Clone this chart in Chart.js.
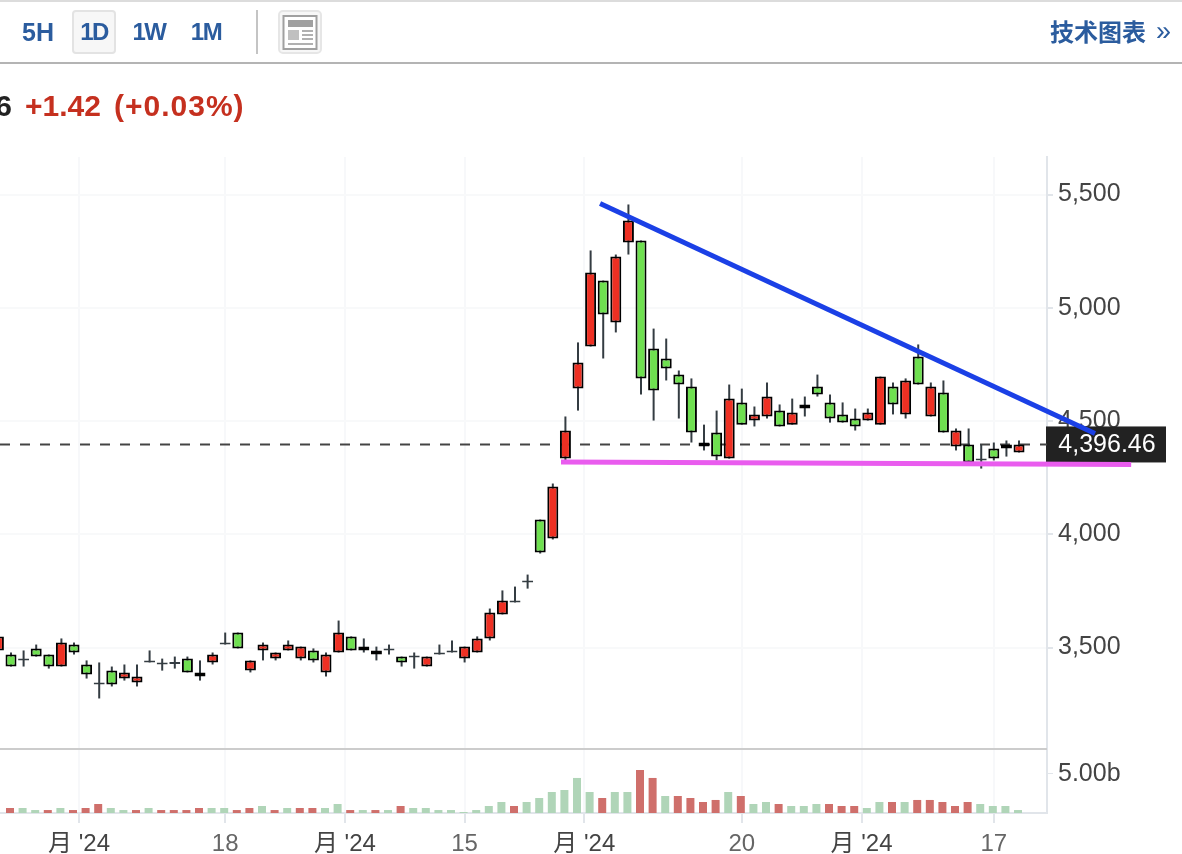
<!DOCTYPE html>
<html lang="zh">
<head>
<meta charset="utf-8">
<style>
html,body{margin:0;padding:0;background:#fff;width:1182px;height:854px;overflow:hidden;font-family:"Liberation Sans","Noto Sans CJK SC",sans-serif}
#c{position:absolute;left:0;top:0}
.abs{position:absolute;white-space:nowrap}
.tf{top:14px;height:36px;line-height:36px;font-size:25px;font-weight:700;color:#2b5c9e;text-align:center;width:44px}
.tn{font-size:24px;letter-spacing:-1.5px}
</style>
</head>
<body>
<canvas id="c" width="1182" height="854"></canvas>
<div class="abs" style="left:0;top:0;width:1182px;height:2px;background:#dcdcdc"></div>
<div class="abs" style="left:0;top:62px;width:1182px;height:2px;background:#b4b4b4"></div>
<div class="abs" style="left:72px;top:10px;width:40px;height:40px;background:#f7f7f7;border:2px solid #e3e3e3;border-radius:4px"></div>
<div class="abs tf" style="left:16px">5H</div>
<div class="abs tf tn" style="left:72px">1D</div>
<div class="abs tf tn" style="left:127px">1W</div>
<div class="abs tf tn" style="left:184px">1M</div>
<div class="abs" style="left:256px;top:10px;width:2px;height:44px;background:#c4c4c4"></div>
<svg class="abs" style="left:278px;top:10px" width="44" height="44" viewBox="0 0 44 44">
  <rect x="1" y="1" width="42" height="42" rx="4" fill="#f7f7f7" stroke="#e6e6e6" stroke-width="2"/>
  <rect x="7" y="6.5" width="33" height="33" fill="#fff" stroke="#a0a0a0" stroke-width="2" transform="translate(-1.5,-0.5)"/>
  <rect x="10" y="10" width="25" height="7" fill="#a0a0a0"/>
  <rect x="10" y="20" width="11" height="10" fill="#c0c0c0"/>
  <rect x="24" y="20" width="11" height="2" fill="#b0b0b0"/>
  <rect x="24" y="24" width="11" height="2" fill="#b0b0b0"/>
  <rect x="24" y="28" width="11" height="2" fill="#b0b0b0"/>
  <rect x="10" y="33" width="25" height="2" fill="#b0b0b0"/>
</svg>
<div class="abs" style="left:1050px;top:13px;height:36px;line-height:36px;font-size:24px;font-weight:700;color:#2b5c9e;font-family:'Noto Sans CJK SC',sans-serif">技术图表</div>
<div class="abs" style="left:1156px;top:13px;height:36px;line-height:36px;font-size:27px;color:#2b5c9e">»</div>
<div class="abs" style="right:1170px;top:88px;height:36px;line-height:36px;font-size:30px;font-weight:700;color:#222">6</div>
<div class="abs" style="left:25px;top:88px;height:36px;line-height:36px;font-size:30px;font-weight:700;color:#c5301f">+1.42</div>
<div class="abs" style="left:114px;top:88px;height:36px;line-height:36px;font-size:30px;font-weight:700;color:#c5301f;letter-spacing:1px">(+0.03%)</div>
<script src="https://cdn.jsdelivr.net/npm/chart.js@4/dist/chart.umd.min.js"></script>
<script>
const opens  = [3487,3469,3451,3496,3469,3416,3513,3425,3345,3398,3363,3345,3443,3434,3436,3451,3390,3434,3522,3566,3398,3487,3451,3487,3451,3487,3390,3478,3549,3504,3487,3496,3460,3465,3416,3478,3487,3451,3478,3540,3646,3708,3796,4065,3981,4334,4643,4829,5120,4935,5288,5297,4820,4776,4705,4652,4405,4449,4334,4582,4502,4520,4546,4484,4573,4652,4582,4529,4511,4502,4484,4652,4529,4785,4520,4626,4387,4396,4334,4379,4396,4361];
const highs  = [3549,3478,3487,3513,3469,3540,3522,3443,3434,3416,3425,3425,3487,3451,3460,3460,3443,3478,3566,3566,3443,3522,3478,3531,3504,3496,3478,3619,3549,3540,3504,3513,3460,3478,3460,3513,3531,3504,3549,3672,3752,3769,3822,4065,4224,4520,4847,5253,5120,5235,5456,5297,4908,4864,4723,4688,4484,4546,4661,4643,4564,4670,4573,4599,4608,4705,4617,4582,4555,4555,4696,4670,4688,4838,4670,4679,4467,4467,4396,4405,4414,4414];
const lows   = [3487,3416,3416,3460,3407,3416,3469,3363,3275,3328,3354,3328,3434,3398,3407,3390,3354,3425,3513,3496,3390,3443,3443,3487,3443,3434,3372,3478,3487,3478,3443,3469,3416,3407,3416,3469,3478,3434,3478,3531,3646,3699,3760,3915,3977,4326,4546,4829,4776,4891,5235,4617,4502,4679,4511,4405,4370,4326,4334,4484,4476,4511,4476,4484,4520,4608,4493,4493,4458,4502,4484,4529,4511,4661,4520,4449,4370,4317,4290,4326,4343,4361];
const closes = [3549,3416,3443,3460,3416,3522,3478,3381,3337,3337,3390,3372,3434,3425,3427,3390,3372,3469,3513,3496,3443,3513,3478,3513,3504,3443,3469,3566,3487,3487,3469,3487,3434,3456,3460,3469,3478,3504,3540,3655,3708,3699,3787,3919,4211,4458,4758,5156,4970,5226,5385,4688,4635,4732,4661,4449,4387,4343,4599,4484,4529,4608,4476,4538,4555,4617,4511,4493,4476,4538,4696,4573,4679,4661,4652,4449,4458,4317,4326,4334,4379,4396];
// volume in billions; first entry belongs to the candle clipped at the left edge
const volumes = [0,0.64,0.64,0.38,0.38,0.64,0.38,0.64,1.15,0.64,0.38,0.38,0.64,0.38,0.38,0.38,0.64,0.64,0.64,0.38,0.64,0.9,0.38,0.64,0.64,0.64,0.64,1.15,0.38,0.38,0.38,0.38,0.9,0.64,0.64,0.38,0.38,0.13,0.38,0.9,1.41,0.9,1.41,1.92,2.69,2.95,4.49,2.69,1.92,2.69,2.69,5.51,4.49,2.18,2.18,1.92,1.41,1.67,2.69,2.18,1.15,1.41,1.15,0.9,0.9,1.15,1.15,0.9,0.9,0.64,1.41,1.41,1.41,1.67,1.67,1.41,0.9,1.41,1.15,0.9,0.9,0.38];
const volumeUp = [0,1,0,0,1,0,1,1,1,0,0,1,0,1,1,1,1,0,0,1,1,0,1,0,1,1,0,0,1,0,1,0,1,0,0,0,0,0,0,0,0,1,0,0,0,0,0,0,1,0,0,1,1,0,1,1,1,1,0,1,0,0,1,0,0,0,1,1,1,0,0,1,0,1,1,1,1,1,0,0,0,0];
const lastPrice = 4396.46;
const priceTicks = [3500,4000,4500,5000,5500];
const volumeTicks = [5];
const timeTicks = [6.4,18,27.5,37,46.5,59,68.5,79];
const timeLabels = ["月 '24","18","月 '24","15","月 '24","20","月 '24","17"];
const resistanceLine = [{x:47.75,y:5460},{x:87.03,y:4445}];
const supportLine = [{x:44.65,y:4319},{x:89.9,y:4308}];

const RED='#ee3023', GREEN='#6fe050', WICK='#343c42', VOL_RED='#cf6f6b', VOL_GREEN='#b0d5b8';
const X_MIN=0.127, X_MAX=83.22, VOL_SHIFT=-0.08;
const idx=opens.map((_,i)=>i);
const isDoji=i=>Math.abs(opens[i]-closes[i])<10;

const paneDecor={
  id:'paneDecor',
  beforeDatasetsDraw(chart){
    const {ctx,scales:{y,yVol,x}}=chart;
    ctx.save();
    ctx.fillStyle='#cccccc';
    ctx.fillRect(x.left,yVol.top-1,x.right-x.left,2);
    const py=y.getPixelForValue(lastPrice);
    ctx.fillStyle='#222222';
    ctx.fillRect(x.right-1,py-18,120,36);
    ctx.fillStyle='#ffffff';
    ctx.font='25px "Liberation Sans",sans-serif';
    ctx.textAlign='center';ctx.textBaseline='middle';
    ctx.fillText(lastPrice.toLocaleString('en-US',{minimumFractionDigits:2}),x.right+60,py+1);
    ctx.restore();
  }
};

new Chart(document.getElementById('c'),{
  type:'bar',
  plugins:[paneDecor],
  data:{datasets:[
    {type:'line',data:resistanceLine,borderColor:'#1b40e6',borderWidth:5,pointRadius:0,clip:false,order:0,tension:0,xAxisID:'x',yAxisID:'y',borderCapStyle:'butt'},
    {type:'line',data:supportLine,borderColor:'#e95cee',borderWidth:5,pointRadius:0,clip:false,order:0,tension:0,xAxisID:'x',yAxisID:'y'},
    {label:'body',data:idx.map(i=>({x:i,y:[opens[i],closes[i]]})),barThickness:11,grouped:false,borderSkipped:false,borderWidth:2,inflateAmount:0,
      backgroundColor:c=>isDoji(c.dataIndex)?WICK:(closes[c.dataIndex]>opens[c.dataIndex]?RED:GREEN),
      borderColor:c=>isDoji(c.dataIndex)?WICK:'#000000',order:2,xAxisID:'x',yAxisID:'y'},
    {label:'wick',data:idx.map(i=>({x:i,y:[lows[i],highs[i]]})),barThickness:2,grouped:false,borderSkipped:false,borderWidth:0,inflateAmount:0,backgroundColor:WICK,order:3,xAxisID:'x',yAxisID:'y'},
    {type:'line',data:[{x:X_MIN,y:lastPrice},{x:X_MAX,y:lastPrice}],borderColor:'#444444',borderWidth:2,borderDash:[10,10],pointRadius:0,order:4,xAxisID:'x',yAxisID:'y'},
    {label:'volume',data:idx.map(i=>({x:i+VOL_SHIFT,y:volumes[i]})),barThickness:8,grouped:false,borderWidth:0,inflateAmount:0,
      backgroundColor:c=>volumeUp[c.dataIndex]?VOL_RED:VOL_GREEN,order:5,xAxisID:'x',yAxisID:'yVol'}
  ]},
  options:{
    responsive:false,animation:false,
    layout:{padding:{top:157,left:0,right:0,bottom:0}},
    plugins:{legend:{display:false},tooltip:{enabled:false}},
    scales:{
      x:{type:'linear',offset:false,min:X_MIN,max:X_MAX,
        afterBuildTicks:s=>{s.ticks=timeTicks.map(v=>({value:v}));},
        afterFit:s=>{s.height=41;},
        grid:{color:'#f7f8fa',lineWidth:2,tickColor:'#e1e5ea',tickLength:10,offset:false},
        border:{color:'#e1e5ea',width:2},
        ticks:{autoSkip:false,maxRotation:0,padding:7,color:c=>/月/.test(c.tick.label)?'#444444':'#666666',
          font:{size:24,family:'"Liberation Sans","Noto Sans CJK SC",sans-serif'},
          callback:(v,i)=>timeLabels[i]}
      },
      y:{type:'linear',position:'right',stack:'panes',stackWeight:592,min:3051.9,max:5665.6,
        afterBuildTicks:s=>{s.ticks=priceTicks.map(v=>({value:v}));},
        afterFit:s=>{s.width=135;},
        grid:{color:'#f8f9fa',lineWidth:2,tickColor:'#e1e5ea',tickLength:6},
        border:{color:'#e1e5ea',width:2},
        ticks:{padding:5,color:'#444444',font:{size:25,family:'"Liberation Sans",sans-serif'},
          callback:v=>v.toLocaleString('en-US')}
      },
      yVol:{type:'linear',position:'right',stack:'panes',stackWeight:64,min:0,max:8.2,
        afterBuildTicks:s=>{s.ticks=volumeTicks.map(v=>({value:v}));},
        afterFit:s=>{s.width=135;},
        grid:{drawOnChartArea:false,tickColor:'#e1e5ea',tickLength:6},
        border:{color:'#e1e5ea',width:2},
        ticks:{padding:5,color:'#444444',font:{size:25,family:'"Liberation Sans",sans-serif'},
          callback:v=>v.toFixed(2)+'b'}
      }
    }
  }
});
</script>
</body>
</html>
